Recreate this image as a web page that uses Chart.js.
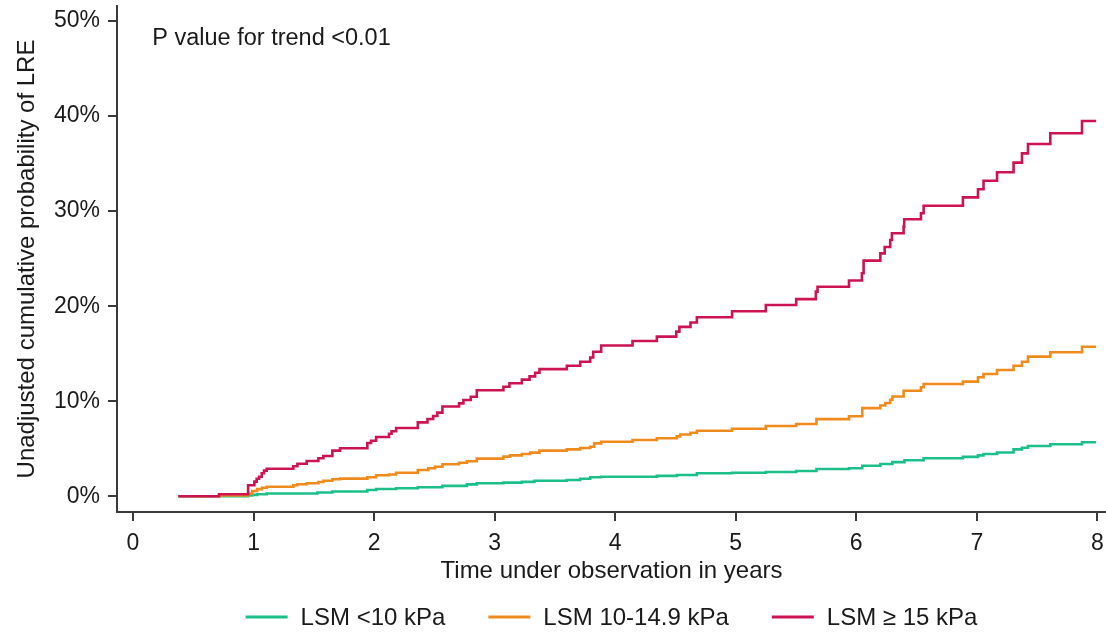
<!DOCTYPE html>
<html>
<head>
<meta charset="utf-8">
<script src="https://cdn.jsdelivr.net/npm/chart.js@4/dist/chart.umd.min.js"></script>
<style>
  html, body { margin: 0; padding: 0; background: #ffffff; }
  #wrap { width: 1106px; height: 635px; }
</style>
</head>
<body>
<div id="wrap"><canvas id="lreChart" width="1106" height="635"></canvas></div>
<script>
// cumulative incidence steps: time in years, value in percent after each event
const groupLabels = ['LSM <10 kPa', 'LSM 10-14.9 kPa', 'LSM \u2265 15 kPa'];
const groupColors = ['#1cbf8a', '#ef8a1c', '#cc1450'];

const lowTimes = [0.376, 0.955, 0.99, 1.03, 1.109, 1.53, 1.654, 1.944, 2.017, 2.183, 2.363, 2.567, 2.77, 2.852, 3.073, 3.226, 3.33, 3.599, 3.71, 3.793, 3.884, 4.346, 4.512, 4.678, 4.97, 5.25, 5.502, 5.67, 5.94, 6.05, 6.2, 6.3, 6.4, 6.559, 6.885, 7.01, 7.056, 7.168, 7.305, 7.375, 7.425, 7.61, 7.873, 7.99];
const lowValues = [0, 0.08, 0.15, 0.22, 0.3, 0.4, 0.5, 0.66, 0.77, 0.84, 0.95, 1.1, 1.25, 1.37, 1.44, 1.52, 1.64, 1.72, 1.85, 2.0, 2.06, 2.15, 2.24, 2.42, 2.48, 2.56, 2.66, 2.87, 2.95, 3.22, 3.4, 3.6, 3.8, 4.0, 4.15, 4.3, 4.45, 4.6, 4.94, 5.11, 5.29, 5.47, 5.68, 5.68];

const midTimes = [0.376, 0.714, 0.955, 0.99, 1.03, 1.07, 1.109, 1.33, 1.364, 1.441, 1.538, 1.579, 1.654, 1.718, 1.944, 2.017, 2.124, 2.183, 2.363, 2.45, 2.506, 2.567, 2.705, 2.77, 2.852, 3.073, 3.128, 3.226, 3.295, 3.372, 3.599, 3.71, 3.793, 3.826, 3.884, 4.144, 4.346, 4.512, 4.54, 4.625, 4.678, 4.97, 5.25, 5.502, 5.67, 5.94, 6.05, 6.2, 6.24, 6.282, 6.3, 6.393, 6.537, 6.559, 6.885, 7.01, 7.056, 7.168, 7.305, 7.375, 7.425, 7.61, 7.873, 7.99];
const midValues = [0, 0.08, 0.3, 0.55, 0.75, 0.9, 1.0, 1.16, 1.26, 1.37, 1.5, 1.64, 1.79, 1.86, 2.0, 2.21, 2.3, 2.48, 2.77, 2.95, 3.11, 3.37, 3.53, 3.68, 3.96, 4.17, 4.31, 4.45, 4.59, 4.8, 4.94, 5.08, 5.22, 5.57, 5.74, 5.92, 6.1, 6.3, 6.5, 6.69, 6.9, 7.11, 7.4, 7.61, 8.12, 8.42, 9.28, 9.55, 9.82, 10.15, 10.5, 11.11, 11.47, 11.82, 12.06, 12.52, 12.87, 13.29, 13.74, 14.16, 14.69, 15.15, 15.74, 15.74];

const highTimes = [0.376, 0.714, 0.955, 1.007, 1.026, 1.046, 1.068, 1.087, 1.109, 1.33, 1.364, 1.441, 1.538, 1.579, 1.654, 1.718, 1.944, 1.975, 2.017, 2.124, 2.145, 2.183, 2.363, 2.443, 2.49, 2.525, 2.567, 2.705, 2.741, 2.802, 2.852, 3.073, 3.123, 3.226, 3.29, 3.336, 3.372, 3.599, 3.71, 3.793, 3.818, 3.884, 4.144, 4.346, 4.507, 4.533, 4.625, 4.678, 4.97, 5.25, 5.502, 5.665, 5.679, 5.94, 6.047, 6.061, 6.2, 6.236, 6.282, 6.296, 6.393, 6.398, 6.537, 6.559, 6.885, 7.01, 7.056, 7.168, 7.305, 7.375, 7.425, 7.61, 7.873, 7.99];
const highValues = [0, 0.22, 1.16, 1.54, 1.85, 2.06, 2.42, 2.7, 2.9, 3.16, 3.43, 3.71, 4.0, 4.24, 4.8, 5.05, 5.6, 5.85, 6.24, 6.58, 6.85, 7.18, 7.78, 8.13, 8.45, 8.8, 9.45, 9.78, 10.13, 10.48, 11.15, 11.53, 11.89, 12.27, 12.62, 13.0, 13.38, 13.74, 14.16, 14.6, 15.2, 15.87, 16.34, 16.8, 17.32, 17.82, 18.28, 18.83, 19.46, 20.13, 20.74, 21.53, 22.05, 22.7, 23.46, 24.79, 25.56, 26.23, 26.97, 27.67, 28.37, 29.14, 29.77, 30.57, 31.45, 32.3, 33.2, 34.09, 35.1, 36.08, 37.06, 38.19, 39.48, 39.48];

const xTicks = [0, 1, 2, 3, 4, 5, 6, 7, 8];
const yTicks = [0, 10, 20, 30, 40, 50];

const FONT = 'Liberation Sans, Arial, Helvetica, sans-serif';
const INK = '#1a1a1a';
const AXIS = '#3a3a3a';

const toPoints = (ts, vs) => ts.map((t, i) => ({ x: t, y: vs[i] }));

function makeSet(idx, ts, vs, order) {
  return {
    label: groupLabels[idx],
    data: toPoints(ts, vs),
    borderColor: groupColors[idx],
    backgroundColor: groupColors[idx],
    borderWidth: 2.6,
    stepped: 'before',
    pointRadius: 0,
    fill: false,
    order: order
  };
}

// legend row under the axis title
const bottomLegend = {
  id: 'bottomLegend',
  afterDraw(chart) {
    const ctx = chart.ctx;
    const area = chart.chartArea;
    const lineLen = 42, textGap = 13, itemGap = 43, y = 617;
    ctx.save();
    ctx.font = '24px ' + FONT;
    const widths = chart.data.datasets.map(ds => ctx.measureText(ds.label).width);
    let total = 0;
    widths.forEach((w, i) => { total += lineLen + textGap + w + (i < widths.length - 1 ? itemGap : 0); });
    let x = (area.left + area.right) / 2 - total / 2;
    chart.data.datasets.forEach((ds, i) => {
      ctx.strokeStyle = ds.borderColor;
      ctx.lineWidth = 3;
      ctx.beginPath();
      ctx.moveTo(x, y);
      ctx.lineTo(x + lineLen, y);
      ctx.stroke();
      x += lineLen + textGap;
      ctx.fillStyle = INK;
      ctx.textBaseline = 'middle';
      ctx.textAlign = 'left';
      ctx.fillText(ds.label, x, y + 1);
      x += widths[i] + itemGap;
    });
    ctx.restore();
  }
};

// trend test note in the upper left of the plot
const trendNote = {
  id: 'trendNote',
  afterDraw(chart) {
    const ctx = chart.ctx;
    const xs = chart.scales.x, ys = chart.scales.y;
    ctx.save();
    ctx.font = '23.5px ' + FONT;
    ctx.fillStyle = INK;
    ctx.textAlign = 'left';
    ctx.textBaseline = 'alphabetic';
    ctx.fillText('P value for trend <0.01', xs.getPixelForValue(0.16), ys.getPixelForValue(47.48));
    ctx.restore();
  }
};

const ctx = document.getElementById('lreChart');
new Chart(ctx, {
  type: 'line',
  data: {
    datasets: [
      makeSet(0, lowTimes, lowValues, 2),
      makeSet(1, midTimes, midValues, 1),
      makeSet(2, highTimes, highValues, 0)
    ]
  },
  options: {
    responsive: false,
    animation: false,
    layout: { padding: { top: 6, right: 0, bottom: 48, left: 0 } },
    plugins: {
      legend: { display: false },
      tooltip: { enabled: false }
    },
    scales: {
      x: {
        type: 'linear',
        min: -0.1327,
        max: 8.072,
        afterBuildTicks: (scale) => { scale.ticks = xTicks.map(v => ({ value: v })); },
        afterFit: (scale) => { scale.height = 75; scale.paddingLeft = 0; scale.paddingRight = 0; },
        grid: { drawOnChartArea: false, drawTicks: true, tickLength: 9, color: AXIS, lineWidth: 2 },
        border: { display: true, color: AXIS, width: 2 },
        ticks: { color: INK, padding: 9, maxRotation: 0, font: { family: FONT, size: 23 } },
        title: {
          display: true,
          text: 'Time under observation in years',
          color: INK,
          font: { family: FONT, size: 24, lineHeight: 1.2 },
          padding: { top: 0, bottom: 1 }
        }
      },
      y: {
        type: 'linear',
        min: -1.652,
        max: 51.58,
        afterBuildTicks: (scale) => { scale.ticks = yTicks.map(v => ({ value: v })); },
        afterFit: (scale) => { scale.width = 117; scale.paddingTop = 0; scale.paddingBottom = 0; },
        grid: { drawOnChartArea: false, drawTicks: true, tickLength: 9, color: AXIS, lineWidth: 2 },
        border: { display: true, color: AXIS, width: 2 },
        ticks: {
          color: INK,
          padding: 8,
          font: { family: FONT, size: 23 },
          callback: (v) => v + '%'
        },
        title: {
          display: true,
          text: 'Unadjusted cumulative probability of LRE',
          color: INK,
          font: { family: FONT, size: 24, lineHeight: 1.2 },
          padding: { top: 13, bottom: 0 }
        }
      }
    }
  },
  plugins: [bottomLegend, trendNote]
});
</script>
</body>
</html>
